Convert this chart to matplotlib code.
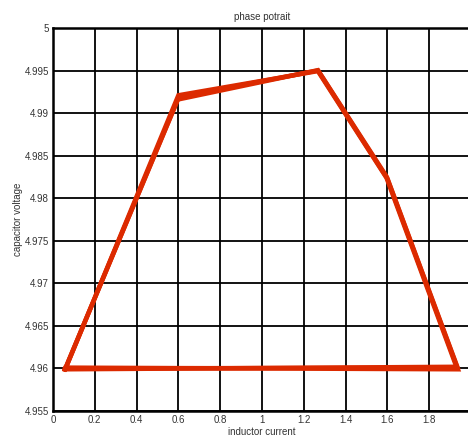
import matplotlib
matplotlib.use("Agg")
import matplotlib.pyplot as plt

plt.rcParams['font.family'] = ['Liberation Sans', 'DejaVu Sans']

# phase portrait traced a few times (each list = one loop)
loop1_i = [0.057, 0.598, 1.268, 1.598, 1.935, 0.057]
loop1_v = [4.9599, 4.9916, 4.99505, 4.9825, 4.9602, 4.9599]
loop2_i = [0.062, 0.600, 1.270, 1.600, 1.938, 0.062]
loop2_v = [4.9601, 4.9921, 4.99495, 4.9823, 4.9599, 4.9601]
loop3_i = [0.060, 0.602, 1.266, 1.596, 1.932, 0.060]
loop3_v = [4.9600, 4.9919, 4.99500, 4.9824, 4.9601, 4.9600]

x_ticks = [0, 0.2, 0.4, 0.6, 0.8, 1, 1.2, 1.4, 1.6, 1.8]
x_labels = ['0', '0.2', '0.4', '0.6', '0.8', '1', '1.2', '1.4', '1.6', '1.8']
y_ticks = [4.955, 4.96, 4.965, 4.97, 4.975, 4.98, 4.985, 4.99, 4.995, 5]
y_labels = ['4.955', '4.96', '4.965', '4.97', '4.975', '4.98', '4.985', '4.99', '4.995', '5']

fig = plt.figure(figsize=(4.68, 4.36), dpi=100)
ax = fig.add_axes([0.1132, 0.0573, 0.893, 0.8784])

for xs, ys in [(loop1_i, loop1_v), (loop2_i, loop2_v), (loop3_i, loop3_v)]:
    ax.plot(xs, ys, color='#dc2a00', lw=3.2, solid_joinstyle='miter')

ax.set_xlim(0, 2)
ax.set_ylim(4.955, 5)
ax.set_xticks(x_ticks)
ax.set_xticklabels(x_labels)
ax.set_yticks(y_ticks)
ax.set_yticklabels(y_labels)
ax.grid(True, color='black', lw=1.3)
ax.set_axisbelow(True)
ax.tick_params(length=0, labelsize=7, colors='#333333', pad=3)
for s in ax.spines.values():
    s.set_linewidth(1.8)
    s.set_color('black')

ax.set_title('phase potrait', fontsize=7, color='#333333', pad=6)
ax.set_xlabel('inductor current', fontsize=7, color='#333333', labelpad=1)
ax.set_ylabel('capacitor voltage', fontsize=7, color='#333333', labelpad=1)

fig.savefig('out.png', dpi=100)
